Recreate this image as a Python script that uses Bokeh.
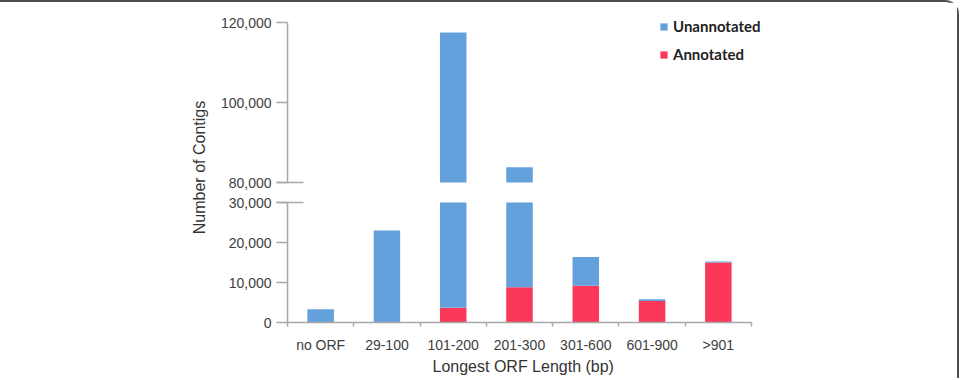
from bokeh.plotting import figure
from bokeh.models import Range1d, FixedTicker, Legend, LegendItem, ColumnDataSource, Title
from bokeh.embed import file_html
from bokeh.resources import INLINE

# ---- data ----
categories = ["no ORF", "29-100", "101-200", "201-300", "301-600", "601-900", ">901"]
annotated = [0, 0, 3700, 8800, 9200, 5400, 15000]
unannotated = [3300, 23000, 113800, 75000, 7200, 400, 250]
lower_ticks = [0, 10000, 20000, 30000]
upper_ticks = [80000, 100000, 120000]

BLUE = "#64a0dc"
RED = "#fc385a"
AXIS = "#a8a8a8"
TXT = "#404040"

# broken axis: lower segment 0..30000, upper segment 80000..120000
LOW_MAX = 30000
UP_MIN = 80000
UP_MAX = 120000
GAP = 5000


def brk(v):
    """map a value of the upper segment onto the plotting coordinate"""
    return v - UP_MIN + LOW_MAX + GAP


n = len(categories)
xs = [i + 0.5 for i in range(n)]
totals = [a + u for a, u in zip(annotated, unannotated)]

low_src = ColumnDataSource(dict(
    x=xs,
    ann=annotated,
    top=[min(t, LOW_MAX) for t in totals],
))
up_x = [x for x, t in zip(xs, totals) if t > UP_MIN]
up_top = [brk(t) for t in totals if t > UP_MIN]
up_src = ColumnDataSource(dict(x=up_x, bottom=[brk(UP_MIN)] * len(up_x), top=up_top))

# frame from x=287 to x=800; categories occupy 287..751
p = figure(width=959, height=378,
           x_range=Range1d(0, n * 513 / 464),
           y_range=Range1d(0, 77500),
           output_backend="svg", toolbar_location=None,
           min_border_left=287, min_border_right=159,
           min_border_top=10, min_border_bottom=58,
           background_fill_color="white", border_fill_color="white")
p.styles = {"border-top": "2px solid #505050", "border-right": "2px solid #505050",
            "border-top-right-radius": "14px"}
p.xgrid.visible = False
p.ygrid.visible = False
p.outline_line_color = None

r_ann = p.vbar(x="x", bottom=0, top="ann", width=0.4, fill_color=RED, line_color=None, source=low_src)
r_un = p.vbar(x="x", bottom="ann", top="top", width=0.4, fill_color=BLUE, line_color=None, source=low_src)
p.vbar(x="x", bottom="bottom", top="top", width=0.4, fill_color=BLUE, line_color=None, source=up_src)

# y axis
yax = p.yaxis[0]
yt = lower_ticks + [brk(v) for v in upper_ticks]
yax.ticker = FixedTicker(ticks=yt, minor_ticks=[LOW_MAX, brk(UP_MIN)])
yax.major_label_overrides = {t: f"{v:,}" for t, v in zip(yt, lower_ticks + upper_ticks)}
yax.bounds = (0, brk(UP_MAX))
yax.axis_line_color = AXIS
yax.axis_line_width = 1.5
yax.axis_line_dash = "120 20 200"
yax.major_tick_line_color = AXIS
yax.major_tick_line_width = 1.5
yax.major_tick_out = 11
yax.major_tick_in = 0
yax.minor_tick_line_color = AXIS
yax.minor_tick_line_width = 1.5
yax.minor_tick_out = 11
yax.minor_tick_in = 16
yax.major_label_standoff = 5
yax.major_label_text_font = "Liberation Sans"
yax.major_label_text_font_size = "14px"
yax.major_label_text_color = TXT
yax.axis_label = "Number of Contigs"
yax.axis_label_text_font = "Liberation Sans"
yax.axis_label_text_font_size = "16px"
yax.axis_label_text_font_style = "normal"
yax.axis_label_text_color = "#333333"
yax.axis_label_standoff = 10

# x axis
xax = p.xaxis[0]
xax.ticker = FixedTicker(ticks=xs, minor_ticks=list(range(n + 1)))
xax.major_label_overrides = {x: c for x, c in zip(xs, categories)}
xax.bounds = (0, n)
xax.axis_line_color = AXIS
xax.axis_line_width = 1.5
xax.major_tick_in = 0
xax.major_tick_out = 0
xax.minor_tick_line_color = AXIS
xax.minor_tick_line_width = 1.5
xax.minor_tick_in = 0
xax.minor_tick_out = 4
xax.major_label_standoff = 10
xax.major_label_text_font = "Liberation Sans"
xax.major_label_text_font_size = "14px"
xax.major_label_text_color = TXT

# x-axis title, centred under the category axis (not under the wider frame)
xtitle = Title(text="Longest ORF Length (bp)", align="left", offset=145,
               text_font="Liberation Sans", text_font_size="16px",
               text_font_style="normal", text_color="#333333",
               standoff=0)
p.add_layout(xtitle, "below")

legend = Legend(items=[LegendItem(label="Unannotated", renderers=[r_un]),
                       LegendItem(label="Annotated", renderers=[r_ann])],
                location=(372, 258), orientation="vertical",
                glyph_width=9, glyph_height=9, label_height=20, label_standoff=5,
                spacing=8, padding=0, margin=0,
                label_text_font="Lato", label_text_font_style="bold",
                label_text_font_size="15px", label_text_color="#222222",
                border_line_alpha=0, background_fill_alpha=0)
p.add_layout(legend)

open("out.html", "w").write(file_html(p, INLINE))
